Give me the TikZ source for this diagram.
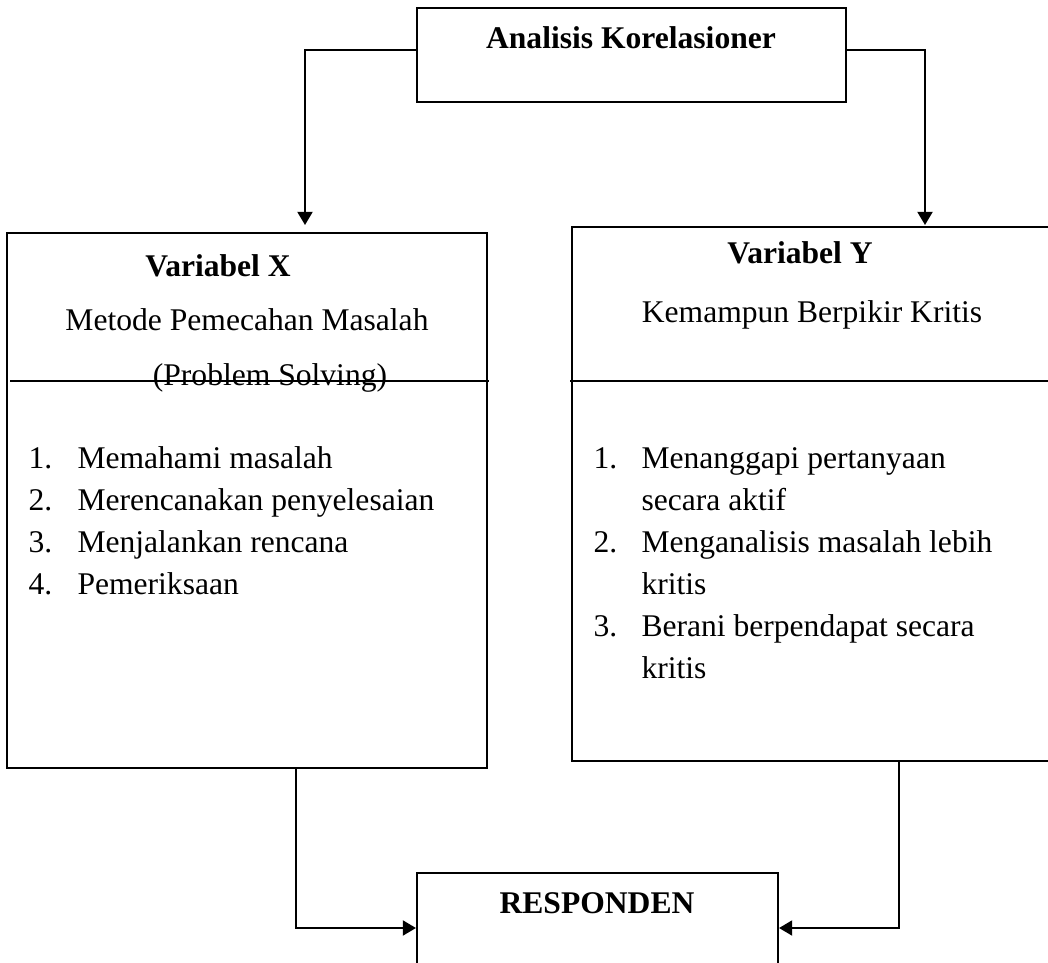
\documentclass[tikz,border=0pt]{standalone}
\usepackage{fontspec}
\setmainfont{Liberation Serif}
\usetikzlibrary{arrows.meta,fit}

\tikzset{
  box/.style={draw, line width=0.8pt, inner sep=0pt},
  txt/.style={anchor=base, inner sep=0pt, font=\fontsize{12}{14}\selectfont},
  head/.style={txt, font=\fontsize{12}{14}\selectfont\bfseries},
  item/.style={anchor=base west, inner sep=0pt, font=\fontsize{12}{14}\selectfont},
  arr/.style={line width=0.8pt, -{Triangle[length=5pt,width=5.7pt]}},
}

\begin{document}
\begin{tikzpicture}[x=0.38pt, y=-0.38pt]
  \useasboundingbox (0,0) rectangle (1048,963);
  \clip (0,0) rectangle (1048,963);
  % corners of the boxes
  \coordinate (k1) at (417,8);   \coordinate (k2) at (846,102);
  \coordinate (x1) at (7,233);   \coordinate (x2) at (487,768);
  \coordinate (y1) at (572,227); \coordinate (y2) at (1052,761);
  \coordinate (r1) at (417,873); \coordinate (r2) at (778,983);
  \node[box, fit=(k1)(k2)] (korelasi) {};
  \node[box, fit=(x1)(x2)] (varx) {};
  \node[box, fit=(y1)(y2)] (vary) {};
  \node[box, fit=(r1)(r2)] (responden) {};

  % dividing lines
  \draw[line width=0.8pt] (10,381) -- (489,381);
  \draw[line width=0.8pt] (570,381) -- (1048,381);

  % titles
  \node[head] (tkor) at (631,48) {Analisis Korelasioner};
  \node[head] (tx) at (218,276) {Variabel X};
  \node[txt] (mx) at (247,330) {Metode Pemecahan Masalah};
  \node[txt] (px) at (270,385) {(Problem Solving)};
  \node[head] (ty) at (800,263) {Variabel Y};
  \node[txt] (my) at (812,322) {Kemampun Berpikir Kritis};
  \node[head] (tres) at (597,913) {RESPONDEN};

  % indicators of X
  \foreach \n/\y/\t in {1/468/Memahami masalah, 2/510/Merencanakan penyelesaian,
                        3/552/Menjalankan rencana, 4/594/Pemeriksaan}{
    \node[item] (xn\n) at (28,\y) {\n.};
    \node[item] (xt\n) at (77,\y) {\t};
  }
  % indicators of Y
  \foreach \n/\y/\t in {1/468/Menanggapi pertanyaan, 2/552/Menganalisis masalah lebih,
                        3/636/Berani berpendapat secara}{
    \node[item] (yn\n) at (593,\y) {\n.};
    \node[item] (yt\n) at (641,\y) {\t};
  }
  \foreach \n/\y/\t in {1/510/secara aktif, 2/594/kritis, 3/678/kritis}
    \node[item] (yc\n) at (641,\y) {\t};

  % connectors
  \coordinate (tipx) at (305,225);
  \coordinate (tipy) at (925,225);
  \coordinate (outx) at (296,768);
  \coordinate (outy) at (899,761);
  \draw[arr] ([yshift=1.9pt]korelasi.west) -| (tipx);
  \draw[arr] ([yshift=1.9pt]korelasi.east) -| (tipy);
  \draw[arr] (outx) |- (responden.west);
  \draw[arr] (outy) |- (responden.east);
\end{tikzpicture}
\end{document}
